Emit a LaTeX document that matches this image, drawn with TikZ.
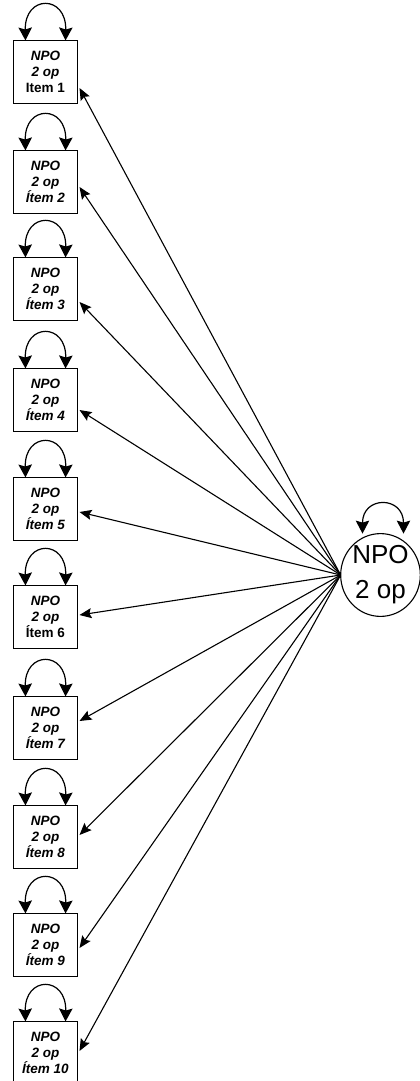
\documentclass[tikz,border=0pt]{standalone}
\usepackage{fontspec}
\setmainfont{Liberation Sans}
\usetikzlibrary{arrows.meta,shapes.geometric}
\begin{document}
\begin{tikzpicture}[x=1pt,y=-1pt,
  obs/.style={draw, line width=1.3pt, minimum width=63.7pt, minimum height=63pt,
    inner sep=0pt, outer sep=0pt, align=center,
    font=\fontsize{13.5}{16}\selectfont\bfseries\itshape},
  lat/.style={draw, ellipse, line width=1.1pt, minimum width=77pt, minimum height=79pt,
    inner sep=0pt, outer sep=0pt, align=center, font=\fontsize{26}{35}\selectfont},
  reg/.style={line width=1.1pt, -{Stealth[length=12pt,width=10pt,inset=2pt]}},
  varloop/.style={line width=1.2pt,
    {Stealth[length=13pt,width=13.5pt,inset=2pt]}-{Stealth[length=13pt,width=13.5pt,inset=2pt]}}
]
\useasboundingbox (0,0) rectangle (420,1081);

% latent factor
\node[lat] (c) at (380.5,575) {NPO\\2 op};
\draw[varloop] ([xshift=-18pt]c.north) .. controls +(0,-38) and +(0,-38) .. ([xshift=23pt]c.north);

% observed items
\foreach \i/\cy/\ty/\lab in {
   1/72/88/{\upshape Item 1},
   2/182/187/{Ítem 2},
   3/289/302/{Ítem 3},
   4/400/410/{Ítem 4},
   5/509/512/{Ítem 5},
   6/617/615/{\upshape Ítem 6},
   7/728/721/{Ítem 7},
   8/837/835/{Ítem 8},
   9/945/948/{Ítem 9},
   10/1053/1051/{Ítem 10}} {
  \node[obs] (b\i) at (45.5,\cy) {NPO\\2 op\\\lab};
  \draw[varloop] ([xshift=-20pt]b\i.north) .. controls +(-1,-46) and +(1,-46) .. ([xshift=20pt]b\i.north);
  \coordinate (e\i) at (79.5,\ty);
  \draw[reg] (c.west) -- (e\i);
}
\end{tikzpicture}
\end{document}
